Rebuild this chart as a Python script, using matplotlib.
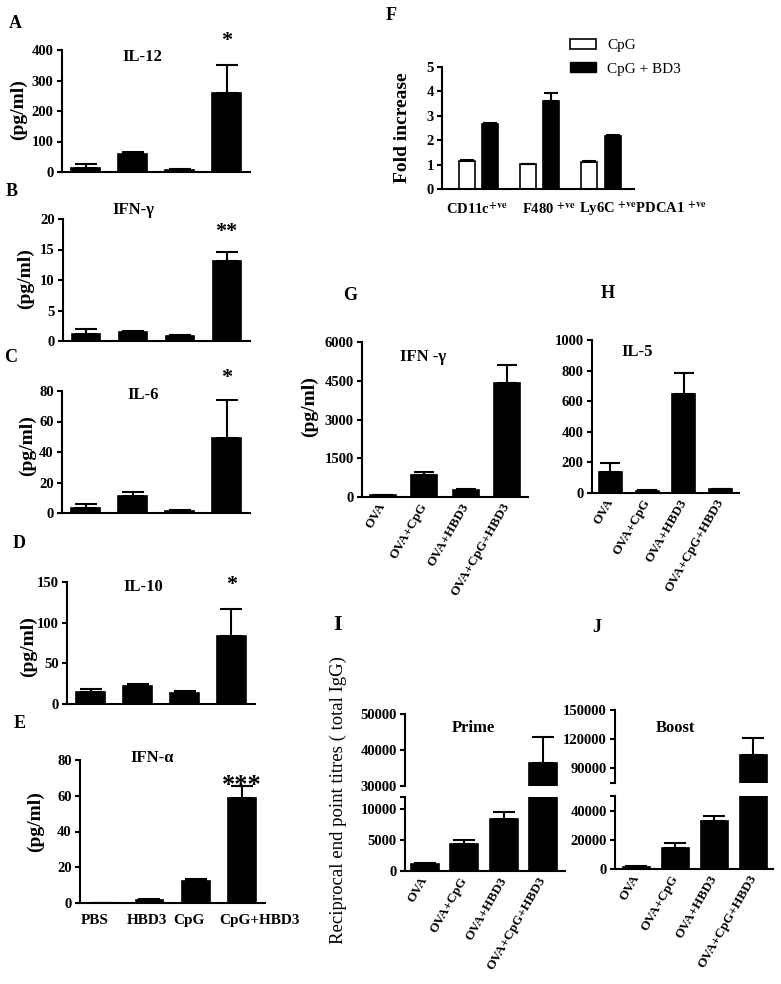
import matplotlib
matplotlib.use('Agg')
import matplotlib.pyplot as plt
from matplotlib.patches import Patch

plt.rcParams['font.family'] = ['Liberation Serif', 'DejaVu Serif']
plt.rcParams['font.weight'] = 'bold'
plt.rcParams['mathtext.fontset'] = 'stix'
plt.rcParams['axes.linewidth'] = 1.5

# ---- data ----
# A-E: cytokines after PBS / HBD3 / CpG / CpG+HBD3
treatments = ['PBS', 'HBD3', 'CpG', 'CpG+HBD3']
il12_mean = [12, 60, 6, 260]
il12_err = [15, 5, 5, 92]
ifng_mean = [1.2, 1.4, 0.9, 13.1]
ifng_err = [0.7, 0.2, 0.1, 1.5]
il6_mean = [3.5, 11, 1.2, 49]
il6_err = [2.5, 3, 0.6, 25]
il10_mean = [14.5, 22.5, 13, 84]
il10_err = [4, 1.5, 2.5, 33]
ifna_mean = [0, 1.6, 12.5, 58.5]
ifna_err = [0, 0.8, 0.7, 7]
stars = ['*', '**', '*', '*', '***']

# F: fold increase of cell populations
cell_types = [r'CD11c$^{\mathrm{+ve}}$', r'F480 $^{\mathrm{+ve}}$',
              r'Ly6C $^{\mathrm{+ve}}$PDCA1 $^{\mathrm{+ve}}$']
fold_cpg = [1.15, 1.02, 1.09]
fold_cpg_err = [0.04, 0.02, 0.04]
fold_cpg_bd3 = [2.65, 3.6, 2.17]
fold_cpg_bd3_err = [0.04, 0.33, 0.06]

# G-J: OVA immunisation groups
ova_groups = ['OVA', 'OVA+CpG', 'OVA+HBD3', 'OVA+CpG+HBD3']
g_ifng = [60, 840, 280, 4400]
g_ifng_err = [10, 110, 15, 700]
h_il5 = [137, 13, 644, 26]
h_il5_err = [60, 5, 142, 3]
prime = [1150, 4400, 8450, 36500]
prime_err = [150, 550, 1050, 7000]
boost = [1700, 14500, 32800, 104000]
boost_err = [300, 3000, 3300, 17000]

W, H = 781, 984
fig = plt.figure(figsize=(W / 100, H / 100), dpi=100)


def px_axes(l, t, r, b):
    return fig.add_axes([l / W, 1 - b / H, (r - l) / W, (b - t) / H])


def ftext(x, y, s, **kw):
    kw.setdefault('ha', 'center')
    kw.setdefault('va', 'center')
    fig.text(x / W, 1 - y / H, s, **kw)


def style(ax, ylim, yticks, xlim=(-0.5, 3.5), ticklabels=None):
    ax.spines['top'].set_visible(False)
    ax.spines['right'].set_visible(False)
    ax.set_xlim(*xlim)
    ax.set_ylim(*ylim)
    ax.set_yticks(yticks)
    if ticklabels is not None:
        ax.set_yticklabels(ticklabels)
    ax.tick_params(axis='y', direction='out', length=3.5, width=1.5,
                   pad=2.5, labelsize=10.5)
    ax.tick_params(axis='x', length=0)
    ax.set_xticks([])


def bars(ax, means, errs, width=0.6, cap=8, face='black', offset=0.0):
    x = [i + offset for i in range(len(means))]
    ax.bar(x, means, width, color=face, edgecolor='black', linewidth=1.2,
           yerr=[[0] * len(errs), errs], capsize=cap,
           error_kw=dict(elinewidth=1.5, capthick=1.5, ecolor='black'))


def star(ax, s, top, off, size=16):
    ax.annotate(s, xy=(3, top), xytext=(0, off), textcoords='offset points',
                ha='center', va='bottom', fontsize=size)


# ---- A-E ----
cyto = [
    (il12_mean, il12_err, (62, 50, 250, 172), 400, 100, 10, 16),
    (ifng_mean, ifng_err, (63, 219, 250, 341), 20, 5, 7.5, 16),
    (il6_mean, il6_err, (62, 391, 250, 513), 80, 20, 8.5, 16),
    (il10_mean, il10_err, (67, 582, 255, 704), 150, 50, 10, 16),
    (ifna_mean, ifna_err, (80, 760, 265, 903), 80, 20, -8, 19),
]
cyto_axes = []
for (m, e, box, ymax, step, off, ssize), s in zip(cyto, stars):
    ax = px_axes(*box)
    bars(ax, m, e, width=0.6, cap=8)
    style(ax, (0, ymax), list(range(0, ymax + 1, step)))
    star(ax, s, m[3] + e[3], off, ssize)
    cyto_axes.append(ax)

# E: group names typed under the bars, left-aligned near each bar
ax_e = cyto_axes[-1]
for i, lab in enumerate(treatments):
    ax_e.text(i - 0.48, -0.12, lab, transform=ax_e.get_xaxis_transform(),
              ha='left', va='center', fontsize=11)

for (x, y, s) in [(15, 23, 'A'), (12, 192, 'B'), (11, 357, 'C'),
                  (19, 544, 'D'), (20, 724, 'E')]:
    ftext(x, y, s, fontsize=13)
for (x, y, s) in [(142, 57, 'IL-12'), (133, 210, 'IFN-γ'), (143, 395, 'IL-6'),
                  (143, 587, 'IL-10'), (152, 758, 'IFN-α')]:
    ftext(x, y, s, fontsize=12)
for (x, y) in [(18, 110), (25, 279), (27, 446), (28, 647), (35, 822)]:
    ftext(x, y, '(pg/ml)', fontsize=14, rotation=90)

# ---- F ----
ax_f = px_axes(442, 67, 634, 189)
bars(ax_f, fold_cpg, fold_cpg_err, width=0.26, cap=5, face='white', offset=-0.19)
bars(ax_f, fold_cpg_bd3, fold_cpg_bd3_err, width=0.26, cap=5, offset=0.19)
style(ax_f, (0, 5), [0, 1, 2, 3, 4, 5], xlim=(-0.59, 2.54))
for xpos, lab in zip([-0.03, 1.16, 2.68], cell_types):
    ax_f.text(xpos, -0.17, lab, transform=ax_f.get_xaxis_transform(),
              ha='center', va='center', fontsize=10.5)
ftext(391, 16, 'F', fontsize=13)
ftext(402, 128, 'Fold increase', fontsize=14, rotation=90)
fig.legend(handles=[Patch(facecolor='white', edgecolor='black', linewidth=1.2),
                    Patch(facecolor='black', edgecolor='black')],
           labels=['CpG', 'CpG + BD3'], loc='upper left',
           bbox_to_anchor=(562 / W, 1 - 31 / H), frameon=False, borderpad=0,
           handlelength=1.7, handleheight=0.65, handletextpad=0.75,
           labelspacing=0.65, prop={'weight': 'normal', 'size': 11})


def ova_xlabels(ax):
    ax.set_xticks(range(4))
    ax.set_xticklabels(ova_groups, rotation=60, ha='right', va='center',
                       rotation_mode='anchor', fontsize=9.5)
    ax.tick_params(axis='x', pad=5)


# ---- G ----
ax_g = px_axes(362, 342, 528, 497)
bars(ax_g, g_ifng, g_ifng_err, width=0.62, cap=7)
style(ax_g, (0, 6000), [0, 1500, 3000, 4500, 6000])
ova_xlabels(ax_g)
ftext(350, 295, 'G', fontsize=13)
ftext(423, 357, 'IFN -γ', fontsize=12)
ftext(309, 407, '(pg/ml)', fontsize=14, rotation=90)

# ---- H ----
ax_h = px_axes(592, 340, 739, 493)
bars(ax_h, h_il5, h_il5_err, width=0.62, cap=7)
style(ax_h, (0, 1000), [0, 200, 400, 600, 800, 1000])
ova_xlabels(ax_h)
ftext(608, 293, 'H', fontsize=13)
ftext(637, 352, 'IL-5', fontsize=12)

# ---- I (broken axis) ----
ax_i_top = px_axes(405, 714, 565, 786)
ax_i_bot = px_axes(405, 797, 565, 871)
for ax in (ax_i_top, ax_i_bot):
    bars(ax, prime, prime_err, width=0.7, cap=8)
style(ax_i_top, (30000, 50000), [30000, 40000, 50000], xlim=(-0.5, 3.55))
ax_i_top.spines['bottom'].set_visible(False)
style(ax_i_bot, (0, 12000), [0, 5000, 10000, 12000], xlim=(-0.5, 3.55),
      ticklabels=['0', '5000', '10000', ''])
ova_xlabels(ax_i_bot)
ftext(338, 625, 'I', fontsize=16)
ftext(473, 728, 'Prime', fontsize=12)
ftext(338, 800, 'Reciprocal end point titres ( total IgG)', fontsize=13.5,
      rotation=90, fontweight='normal')

# ---- J (broken axis) ----
ax_j_top = px_axes(615, 710, 773, 783)
ax_j_bot = px_axes(615, 796, 773, 869)
for ax in (ax_j_top, ax_j_bot):
    bars(ax, boost, boost_err, width=0.7, cap=8)
style(ax_j_top, (75000, 150000), [75000, 90000, 120000, 150000],
      xlim=(-0.55, 3.5), ticklabels=['', '90000', '120000', '150000'])
ax_j_top.spines['bottom'].set_visible(False)
style(ax_j_bot, (0, 50000), [0, 20000, 40000, 50000], xlim=(-0.55, 3.5),
      ticklabels=['0', '20000', '40000', ''])
ova_xlabels(ax_j_bot)
ftext(597, 627, 'J', fontsize=13)
ftext(675, 728, 'Boost', fontsize=12)

fig.savefig('out.png', dpi=100)
